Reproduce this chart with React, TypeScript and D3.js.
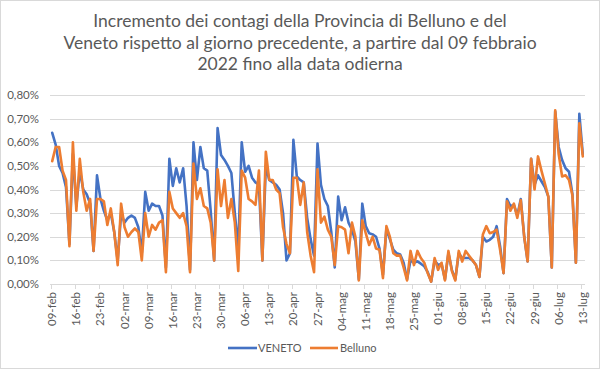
import React from 'react'
import * as d3 from 'd3'

const MONTHS = ['gen', 'feb', 'mar', 'apr', 'mag', 'giu', 'lug']
const DAYS = d3.timeDay.range(new Date(2022, 1, 9), new Date(2022, 6, 14))
const CATEGORIES = DAYS.map(d => `${d3.timeFormat('%d')(d)}-${MONTHS[d.getMonth()]}`)

const TICK_LABELS = [
  '09-feb', '16-feb', '23-feb', '02-mar', '09-mar', '16-mar', '23-mar', '30-mar',
  '06-apr', '13-apr', '20-apr', '27-apr', '04-mag', '11-mag', '18-mag', '25-mag',
  '01-giu', '08-giu', '15-giu', '22-giu', '29-giu', '06-lug', '13-lug'
]

const Y_TICKS = [0, 0.1, 0.2, 0.3, 0.4, 0.5, 0.6, 0.7, 0.8]

// daily increment, in percent
const VENETO = [
  0.64, 0.59, 0.50, 0.47, 0.41, 0.17, 0.55,
  0.33, 0.48, 0.40, 0.38, 0.34, 0.14, 0.46,
  0.36, 0.31, 0.27, 0.30, 0.22, 0.10, 0.30,
  0.26, 0.28, 0.29, 0.28, 0.24, 0.13, 0.39,
  0.31, 0.34, 0.33, 0.33, 0.29, 0.07, 0.53,
  0.415, 0.49, 0.43, 0.49, 0.33, 0.06, 0.60,
  0.44, 0.58, 0.49, 0.48, 0.31, 0.10, 0.66,
  0.546, 0.525, 0.50, 0.47, 0.30, 0.15, 0.60,
  0.475, 0.50, 0.45, 0.43, 0.42, 0.10, 0.50,
  0.44, 0.43, 0.42, 0.40, 0.30, 0.10, 0.13,
  0.61, 0.455, 0.44, 0.43, 0.28, 0.19, 0.12,
  0.595, 0.42, 0.36, 0.33, 0.22, 0.07, 0.37,
  0.27, 0.325, 0.26, 0.23, 0.18, 0.02, 0.34,
  0.245, 0.215, 0.21, 0.20, 0.15, 0.04, 0.235,
  0.19, 0.145, 0.13, 0.125, 0.09, 0.02, 0.10,
  0.09, 0.096, 0.086, 0.075, 0.05, 0.01, 0.10,
  0.08, 0.086, 0.02, 0.13, 0.06, 0.02, 0.13,
  0.11, 0.11, 0.11, 0.10, 0.08, 0.03, 0.20,
  0.18, 0.187, 0.20, 0.245, 0.16, 0.046, 0.36,
  0.33, 0.335, 0.29, 0.36, 0.20, 0.095, 0.53,
  0.42, 0.46, 0.435, 0.41, 0.37, 0.07, 0.73,
  0.58, 0.525, 0.49, 0.475, 0.38, 0.09, 0.72,
  0.55
]

const BELLUNO = [
  0.52, 0.58, 0.58, 0.48, 0.44, 0.16, 0.60,
  0.31, 0.53, 0.39, 0.31, 0.36, 0.14, 0.36,
  0.36, 0.35, 0.25, 0.32, 0.22, 0.08, 0.34,
  0.24, 0.20, 0.22, 0.235, 0.22, 0.10, 0.30,
  0.20, 0.25, 0.23, 0.26, 0.27, 0.05, 0.39,
  0.32, 0.30, 0.28, 0.30, 0.245, 0.05, 0.51,
  0.36, 0.405, 0.33, 0.32, 0.26, 0.10, 0.485,
  0.33, 0.44, 0.28, 0.36, 0.26, 0.055, 0.48,
  0.45, 0.36, 0.35, 0.335, 0.48, 0.10, 0.56,
  0.44, 0.44, 0.40, 0.385, 0.24, 0.17, 0.13,
  0.45, 0.45, 0.335, 0.43, 0.22, 0.12, 0.05,
  0.485, 0.26, 0.285, 0.23, 0.20, 0.08, 0.245,
  0.24, 0.23, 0.13, 0.26, 0.20, 0.015, 0.27,
  0.215, 0.165, 0.20, 0.15, 0.145, 0.025, 0.245,
  0.20, 0.13, 0.12, 0.12, 0.07, 0.015, 0.14,
  0.08, 0.14, 0.11, 0.09, 0.045, 0.01, 0.11,
  0.06, 0.09, 0.015, 0.14, 0.055, 0.015, 0.14,
  0.095, 0.14, 0.12, 0.10, 0.08, 0.03, 0.21,
  0.245, 0.215, 0.22, 0.23, 0.145, 0.046, 0.35,
  0.31, 0.34, 0.28, 0.355, 0.20, 0.095, 0.53,
  0.40, 0.54, 0.48, 0.425, 0.37, 0.07, 0.735,
  0.55, 0.455, 0.46, 0.44, 0.375, 0.09, 0.68,
  0.54
]

const TITLE = [
  'Incremento dei contagi della Provincia di Belluno e del',
  'Veneto rispetto al giorno precedente, a partire dal 09 febbraio',
  '2022 fino alla data odierna'
]

const W = 600
const H = 369
const FONT = 'Lato, "Liberation Sans", sans-serif'
const TEXT = '#595959'
const GRID = '#d9d9d9'

const pct = d3.formatLocale({ decimal: ',', thousands: '.', grouping: [3], currency: ['', '€'] }).format('.2%')

export default function App() {
  const x = d3.scaleBand().domain(CATEGORIES).range([50.5, 584.5])
  const cx = (c: string) => (x(c) ?? 0) + x.bandwidth() / 2
  const y = d3.scaleLinear().domain([0, 0.8]).range([284, 95])

  const line = d3.line<number>()
    .x((_, i) => cx(CATEGORIES[i]))
    .y(v => y(v))

  const series = [
    { name: 'VENETO', values: VENETO, color: '#4472C4' },
    { name: 'Belluno', values: BELLUNO, color: '#ED7D31' }
  ]

  return (
    <svg width={W} height={H} style={{ position: 'absolute', left: 0, top: 0, background: '#fff' }} fontFamily={FONT}>
      <rect x={0.5} y={0.5} width={W - 1} height={H - 1} fill="#fff" stroke={GRID} />

      {TITLE.map((t, i) => (
        <text key={i} x={W / 2} y={27 + i * 21.7} textAnchor="middle" fontSize={17.5} fill={TEXT}>{t}</text>
      ))}

      {Y_TICKS.map(t => (
        <g key={t}>
          <line x1={50} x2={585} y1={Math.round(y(t)) + 0.5} y2={Math.round(y(t)) + 0.5} stroke={GRID} />
          <text x={39} y={y(t) + 4} textAnchor="end" fontSize={11.5} fill={TEXT}>{pct(t / 100)}</text>
        </g>
      ))}

      {TICK_LABELS.map(l => (
        <g key={l}>
          <line x1={Math.round(x(l) ?? 0) + 0.5} x2={Math.round(x(l) ?? 0) + 0.5} y1={284} y2={289} stroke={GRID} />
          <text transform={`translate(${cx(l)},292) rotate(-90)`} dy="0.35em" textAnchor="end" fontSize={11.5} fill={TEXT}>{l}</text>
        </g>
      ))}

      {series.map(s => (
        <path key={s.name} d={line(s.values) ?? ''} fill="none" stroke={s.color} strokeWidth={2.6} strokeLinejoin="round" strokeLinecap="round" />
      ))}

      <g fontSize={11} fill={TEXT}>
        <line x1={228} x2={257} y1={348} y2={348} stroke="#4472C4" strokeWidth={2.6} />
        <text x={258} y={352}>VENETO</text>
        <line x1={310} x2={338} y1={348} y2={348} stroke="#ED7D31" strokeWidth={2.6} />
        <text x={340} y={352}>Belluno</text>
      </g>
    </svg>
  )
}
